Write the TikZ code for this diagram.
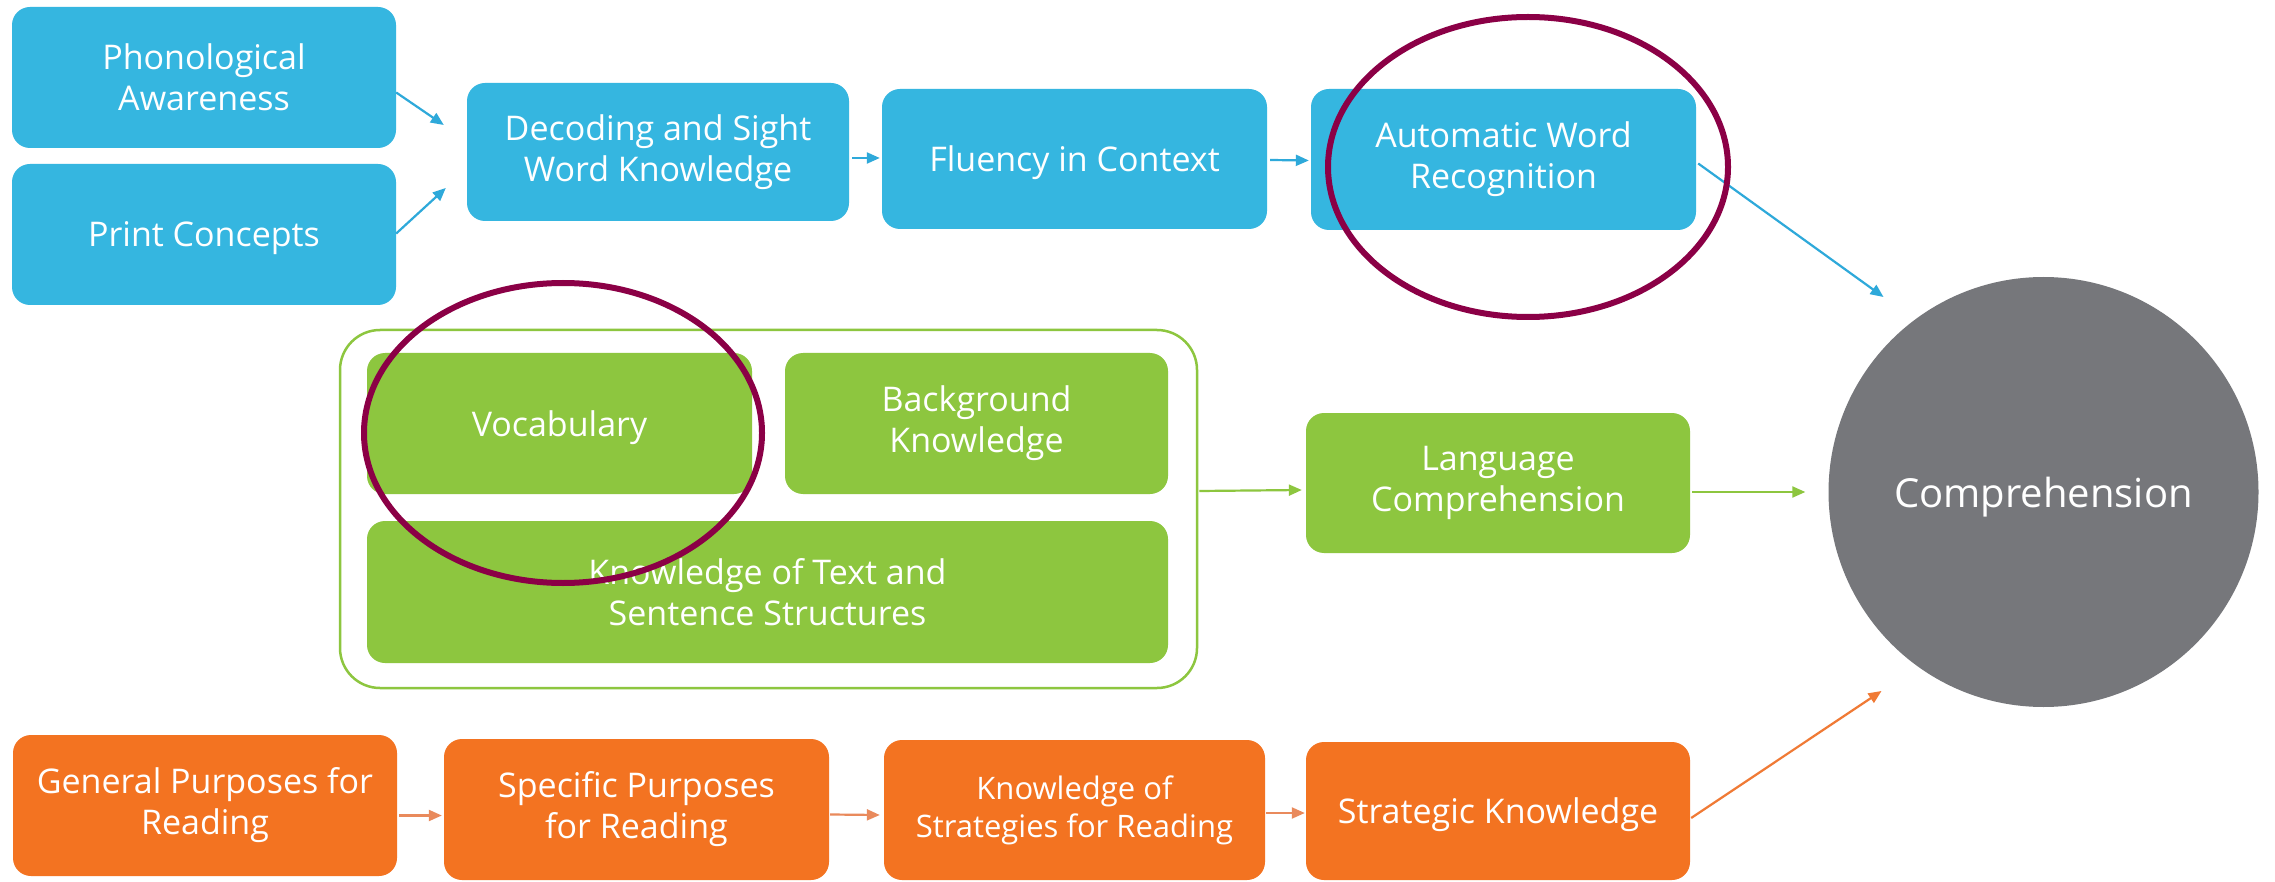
\documentclass[tikz,border=0pt]{standalone}
\usepackage{fontspec}
\setmainfont{Open Sans}
\usetikzlibrary{arrows.meta,calc}
\definecolor{cblue}{HTML}{35B6E0}
\definecolor{cblueline}{HTML}{2EA9DA}
\definecolor{cgreen}{HTML}{8DC63F}
\definecolor{corange}{HTML}{F37321}
\definecolor{corangeline}{HTML}{E98A5C}
\definecolor{corangelong}{HTML}{F07A35}
\definecolor{cgray}{HTML}{76777B}
\definecolor{cmaroon}{HTML}{8B0046}
\begin{document}
\begin{tikzpicture}[x=1pt,y=-1pt,
  box/.style={rectangle, rounded corners=18pt, inner sep=0pt, align=center,
    text=white, font=\fontsize{34}{41}\selectfont},
  oneline/.style={text depth=0pt},
  bluebox/.style={box, fill=cblue},
  greenbox/.style={box, fill=cgreen},
  orangebox/.style={box, fill=corange},
  arr/.style={line width=2.2pt, -{Triangle[length=13pt,width=11pt]}},
  bluearr/.style={arr, draw=cblueline, fill=cblueline},
  greenarr/.style={arr, draw=cgreen, fill=cgreen},
  orangearr/.style={arr, draw=corangeline, fill=corangeline},
  orangelong/.style={arr, draw=corangelong, fill=corangelong},
  ring/.style={draw=cmaroon, line width=6pt}
]
\fill[white] (0,0) rectangle (2275,882);
\useasboundingbox (0,0) rectangle (2275,882);

% blue row
\node[bluebox, minimum width=384pt, minimum height=141pt] (pa) at (204,77.5) {Phonological\\Awareness};
\node[bluebox, oneline, minimum width=384pt, minimum height=141pt] (pc) at (204,234.5) {Print Concepts};
\node[bluebox, minimum width=382pt, minimum height=138pt] (dec) at (658,152) {Decoding and Sight\\Word Knowledge};
\node[bluebox, oneline, minimum width=385pt, minimum height=140pt] (flu) at (1074.5,159) {Fluency in Context};
\node[bluebox, minimum width=385pt, minimum height=141pt] (awr) at (1503.5,159.5) {Automatic Word\\Recognition};

% green group
\node[draw=cgreen, line width=2.5pt, rounded corners=40pt, minimum width=857pt, minimum height=358pt, inner sep=0pt] (cont) at (768.5,509) {};
\node[greenbox, oneline, minimum width=385pt, minimum height=141pt] (voc) at (559.5,423.5) {Vocabulary};
\node[greenbox, minimum width=383pt, minimum height=141pt] (bk) at (976.5,423.5) {Background\\Knowledge};
\node[greenbox, minimum width=801pt, minimum height=142pt] (kts) at (767.5,592) {Knowledge of Text and\\Sentence Structures};
\node[greenbox, minimum width=384pt, minimum height=140pt] (lc) at (1498,483) {Language\\Comprehension};

% comprehension
\node[circle, fill=cgray, minimum size=430pt, inner sep=0pt, text=white, text depth=0pt, font=\fontsize{40}{48}\selectfont] (comp) at (2043.5,492) {Comprehension};

% orange row
\node[orangebox, minimum width=384pt, minimum height=141pt] (gp) at (205,805.5) {General Purposes for\\Reading};
\node[orangebox, minimum width=385pt, minimum height=141pt] (sp) at (636.5,809.5) {Specific Purposes\\for Reading};
\node[orangebox, minimum width=381pt, minimum height=140pt, font=\fontsize{31}{38}\selectfont] (ks) at (1074.5,810) {Knowledge of\\Strategies for Reading};
\node[orangebox, oneline, minimum width=384pt, minimum height=138pt] (sk) at (1498,811) {Strategic Knowledge};

% blue arrows
\draw[bluearr] ($(pa.east)+(0,15)$) -- ($(dec.west)+(-23,-27)$);
\draw[bluearr] ($(pc.east)+(0,-1)$) -- ($(dec.west)+(-21,36)$);
\draw[bluearr] ($(dec.east)+(3,6)$) -- ($(flu.west)+(-2,-1)$);
\draw[bluearr] ($(flu.east)+(3,1)$) -- ($(awr.west)+(-2,1)$);
\draw[bluearr] ($(awr.east)+(2,4)$) -- ($(comp.center)+(-160,-195)$);

% green arrows
\draw[greenarr] ($(cont.east)+(1,-18)$) -- ($(lc.west)+(-4,7)$);
\draw[greenarr] ($(lc.east)+(2,9)$) -- ($(comp.west)+(-23,0)$);

% orange arrows
\draw[orangearr] ($(gp.east)+(2,10)$) -- ($(sp.west)+(-2,6)$);
\draw[orangearr] ($(sp.east)+(1,5)$) -- ($(ks.west)+(-4,5)$);
\draw[orangearr] ($(ks.east)+(1,3)$) -- ($(sk.west)+(-1,2)$);
\draw[orangelong] ($(sk.east)+(1,7)$) -- ($(comp.center)+(-162,199)$);

% highlight rings
\draw[ring] (1528,167) ellipse [x radius=200pt, y radius=150pt];
\draw[ring] (563,433) ellipse [x radius=199pt, y radius=150pt];
\end{tikzpicture}
\end{document}
